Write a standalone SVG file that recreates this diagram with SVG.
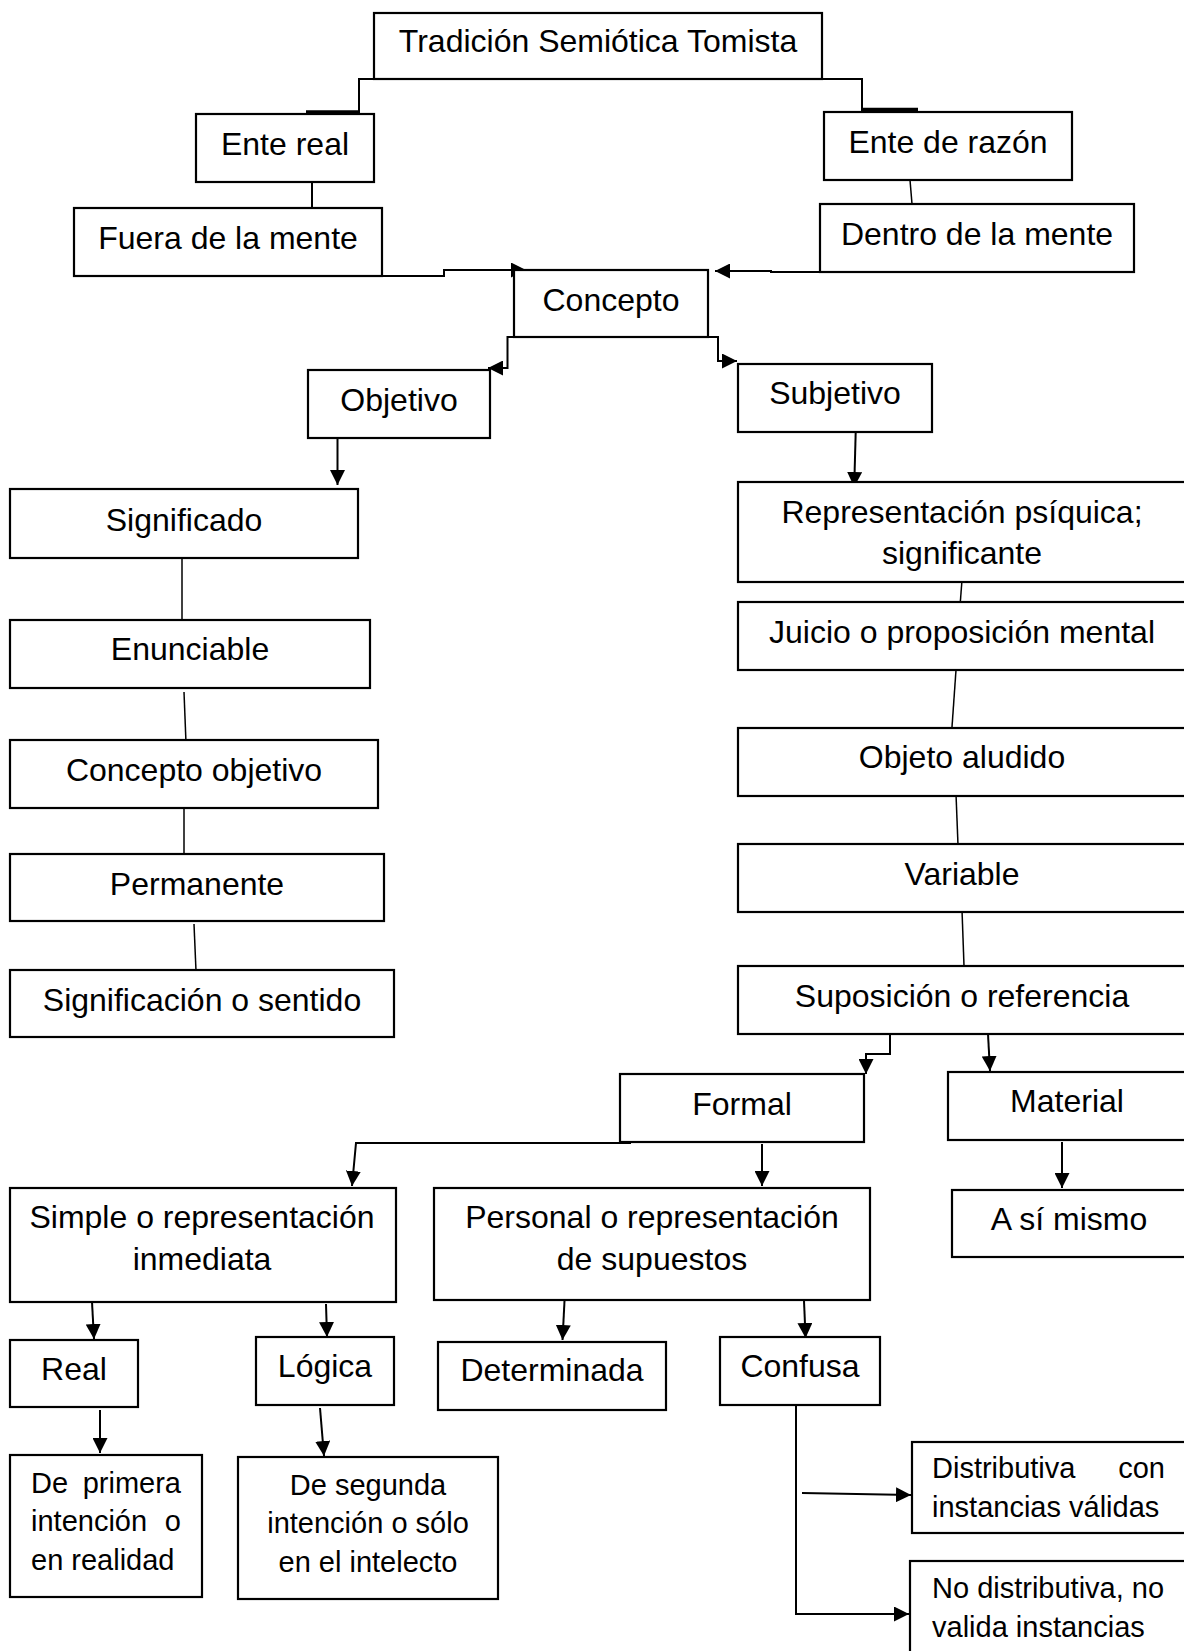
<svg xmlns="http://www.w3.org/2000/svg" width="1184" height="1651" viewBox="0 0 1184 1651">
<style>
.b{fill:#fff;stroke:#000;stroke-width:2.2}
text{font-family:"Liberation Sans",Arial,sans-serif;font-size:32px;fill:#000}
.c{text-anchor:middle}
.s{font-size:29px}
.e{text-anchor:end}
.k{fill:none;stroke:#000;stroke-width:2}
.t{fill:none;stroke:#000;stroke-width:1.5}
.h{fill:none;stroke:#000;stroke-width:3.5}
</style>
<defs>
<marker id="ah" viewBox="0 0 10 10" refX="10" refY="5" markerWidth="15" markerHeight="15" markerUnits="userSpaceOnUse" orient="auto"><path d="M0,0 L10,5 L0,10 z" fill="#000"/></marker>
</defs>
<rect width="1184" height="1651" fill="#fff"/>
<g id="connectors">
<path class="k" d="M374,79 H359 V112"/>
<path class="h" d="M306,112 H360"/>
<path class="k" d="M822,79 H862 V109"/>
<path class="h" d="M861,109.5 H918"/>
<path class="k" d="M312,182 V208"/>
<path class="t" d="M910,180 L912,204"/>
<path class="k" d="M382,276 H444 V270 H526" marker-end="url(#ah)"/>
<path class="k" d="M820,272 H771 V271 H715" marker-end="url(#ah)"/>
<path class="k" d="M514,337 H507.5 V368 H488" marker-end="url(#ah)"/>
<path class="k" d="M708,337 H718 V361 H737" marker-end="url(#ah)"/>
<path class="k" d="M337.5,438 V485" marker-end="url(#ah)"/>
<path class="k" d="M855.7,432 L854.2,487" marker-end="url(#ah)"/>
<path class="t" d="M182,556 V620"/>
<path class="t" d="M184,692 L186,743"/>
<path class="t" d="M184,808 V856"/>
<path class="t" d="M194,924 L196,971"/>
<path class="t" d="M962,580 L960,606"/>
<path class="t" d="M956,670 L952,727"/>
<path class="t" d="M956,794 L958,845"/>
<path class="t" d="M962,910 L964,966"/>
<path class="k" d="M890,1034 V1054 H866 V1074" marker-end="url(#ah)"/>
<path class="k" d="M988,1034 L990,1071" marker-end="url(#ah)"/>
<path class="k" d="M631,1143 H356 L352,1186" marker-end="url(#ah)"/>
<path class="k" d="M762,1144 V1186" marker-end="url(#ah)"/>
<path class="k" d="M1062,1142 V1188" marker-end="url(#ah)"/>
<path class="k" d="M92,1302 L94,1339" marker-end="url(#ah)"/>
<path class="k" d="M326,1304 L327,1337" marker-end="url(#ah)"/>
<path class="k" d="M564.5,1301 L562.5,1340" marker-end="url(#ah)"/>
<path class="k" d="M804,1301 L805.6,1338" marker-end="url(#ah)"/>
<path class="k" d="M100,1410 V1453" marker-end="url(#ah)"/>
<path class="k" d="M320,1408 L324,1456" marker-end="url(#ah)"/>
<path class="k" d="M796,1405 V1614 H909" marker-end="url(#ah)"/>
<path class="k" d="M802,1493 L911,1495" marker-end="url(#ah)"/>
</g>
<g id="tradicion"><rect class="b" x="374" y="13" width="448" height="66"/><text class="c" x="598" y="52">Tradición Semiótica Tomista</text></g>
<g id="ente-real"><rect class="b" x="196" y="114" width="178" height="68"/><text class="c" x="285" y="155">Ente real</text></g>
<g id="ente-razon"><rect class="b" x="824" y="112" width="248" height="68"/><text class="c" x="948" y="153">Ente de razón</text></g>
<g id="fuera"><rect class="b" x="74" y="208" width="308" height="68"/><text class="c" x="228" y="249">Fuera de la mente</text></g>
<g id="dentro"><rect class="b" x="820" y="204" width="314" height="68"/><text class="c" x="977" y="245">Dentro de la mente</text></g>
<g id="concepto"><rect class="b" x="514" y="270" width="194" height="67"/><text class="c" x="611" y="311">Concepto</text></g>
<g id="objetivo"><rect class="b" x="308" y="370" width="182" height="68"/><text class="c" x="399" y="411">Objetivo</text></g>
<g id="subjetivo"><rect class="b" x="738" y="364" width="194" height="68"/><text class="c" x="835" y="404">Subjetivo</text></g>
<g id="significado"><rect class="b" x="10" y="489" width="348" height="69"/><text class="c" x="184" y="531">Significado</text></g>
<g id="enunciable"><rect class="b" x="10" y="620" width="360" height="68"/><text class="c" x="190" y="660">Enunciable</text></g>
<g id="concepto-objetivo"><rect class="b" x="10" y="740" width="368" height="68"/><text class="c" x="194" y="781">Concepto objetivo</text></g>
<g id="permanente"><rect class="b" x="10" y="854" width="374" height="67"/><text class="c" x="197" y="895">Permanente</text></g>
<g id="significacion"><rect class="b" x="10" y="970" width="384" height="67"/><text class="c" x="202" y="1011">Significación o sentido</text></g>
<g id="representacion"><rect class="b" x="738" y="482" width="448" height="100"/><text class="c" x="962" y="523">Representación psíquica;</text><text class="c" x="962" y="564">significante</text></g>
<g id="juicio"><rect class="b" x="738" y="602" width="448" height="68"/><text class="c" x="962" y="643">Juicio o proposición mental</text></g>
<g id="objeto"><rect class="b" x="738" y="728" width="448" height="68"/><text class="c" x="962" y="768">Objeto aludido</text></g>
<g id="variable"><rect class="b" x="738" y="844" width="448" height="68"/><text class="c" x="962" y="885">Variable</text></g>
<g id="suposicion"><rect class="b" x="738" y="966" width="448" height="68"/><text class="c" x="962" y="1007">Suposición o referencia</text></g>
<g id="formal"><rect class="b" x="620" y="1074" width="244" height="68"/><text class="c" x="742" y="1115">Formal</text></g>
<g id="material"><rect class="b" x="948" y="1072" width="238" height="68"/><text class="c" x="1067" y="1112">Material</text></g>
<g id="simple"><rect class="b" x="10" y="1188" width="386" height="114"/><text class="c" x="202" y="1228">Simple o representación</text><text class="c" x="202" y="1270">inmediata</text></g>
<g id="personal"><rect class="b" x="434" y="1188" width="436" height="112"/><text class="c" x="652" y="1228">Personal o representación</text><text class="c" x="652" y="1270">de supuestos</text></g>
<g id="a-si-mismo"><rect class="b" x="952" y="1190" width="234" height="67"/><text class="c" x="1069" y="1230">A sí mismo</text></g>
<g id="real"><rect class="b" x="10" y="1340" width="128" height="67"/><text class="c" x="74" y="1380">Real</text></g>
<g id="logica"><rect class="b" x="256" y="1337" width="138" height="68"/><text class="c" x="325" y="1377">Lógica</text></g>
<g id="determinada"><rect class="b" x="438" y="1342" width="228" height="68"/><text class="c" x="552" y="1381">Determinada</text></g>
<g id="confusa"><rect class="b" x="720" y="1337" width="160" height="68"/><text class="c" x="800" y="1377">Confusa</text></g>
<g id="primera"><rect class="b" x="10" y="1455" width="192" height="142"/>
<text class="s" x="31" y="1493">De</text><text class="s e" x="181" y="1493">primera</text>
<text class="s" x="31" y="1531">intención</text><text class="s e" x="181" y="1531">o</text>
<text class="s" x="31" y="1570">en realidad</text></g>
<g id="segunda"><rect class="b" x="238" y="1457" width="260" height="142"/>
<text class="s c" x="368" y="1495">De segunda</text>
<text class="s c" x="368" y="1533">intención o sólo</text>
<text class="s c" x="368" y="1572">en el intelecto</text></g>
<g id="distributiva"><rect class="b" x="912" y="1442" width="274" height="91"/>
<text class="s" x="932" y="1478">Distributiva</text><text class="s e" x="1165" y="1478">con</text>
<text class="s" x="932" y="1517">instancias válidas</text></g>
<g id="no-distributiva"><rect class="b" x="910" y="1561" width="276" height="100"/>
<text class="s" x="932" y="1598">No distributiva, no</text>
<text class="s" x="932" y="1637">valida instancias</text></g>
</svg>
